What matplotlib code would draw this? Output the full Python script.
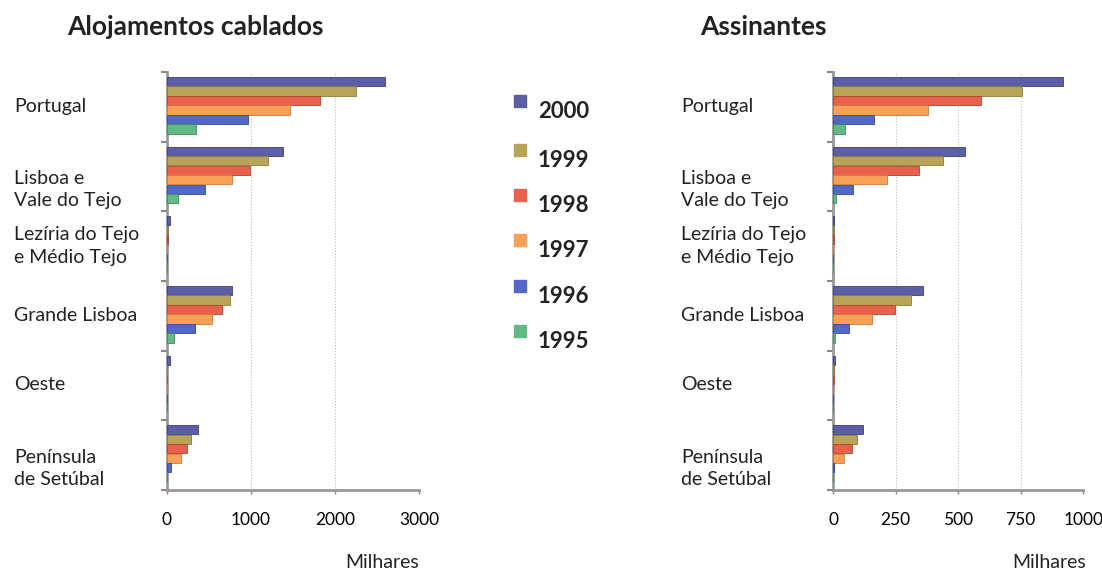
import numpy as np
import matplotlib.pyplot as plt
from matplotlib import transforms

plt.rcParams['font.family'] = ['Lato', 'DejaVu Sans']

regions = ['Portugal', 'Lisboa e\nVale do Tejo', 'Lezíria do Tejo\ne Médio Tejo',
           'Grande Lisboa', 'Oeste', 'Península\nde Setúbal']
years = ['2000', '1999', '1998', '1997', '1996', '1995']
colors = ['#5b5fa6', '#b8a457', '#e9604c', '#f7a057', '#5268c6', '#62b985']
edges = ['#3a3d80', '#8a7a3a', '#b8402e', '#d07a35', '#34489a', '#3f8a5c']

# Alojamentos cablados (milhares), rows = years 2000..1995
aloj_2000 = [2600, 1380, 40, 770, 35, 370]
aloj_1999 = [2250, 1200, 10, 750, 5, 290]
aloj_1998 = [1820, 990, 8, 660, 4, 240]
aloj_1997 = [1460, 780, 6, 540, 3, 170]
aloj_1996 = [960, 455, 4, 335, 2, 50]
aloj_1995 = [350, 130, 2, 85, 1, 5]

# Assinantes (milhares)
assi_2000 = [920, 528, 3, 360, 6, 120]
assi_1999 = [756, 440, 2, 312, 3, 96]
assi_1998 = [592, 344, 2, 248, 2, 76]
assi_1997 = [380, 216, 1, 156, 1, 44]
assi_1996 = [164, 80, 1, 64, 1, 2]
assi_1995 = [48, 10, 0, 8, 0, 0]

aloj = [aloj_2000, aloj_1999, aloj_1998, aloj_1997, aloj_1996, aloj_1995]
assi = [assi_2000, assi_1999, assi_1998, assi_1997, assi_1996, assi_1995]

fig = plt.figure(figsize=(11.02, 5.71), dpi=100)
ax1 = fig.add_axes([0.1515, 0.142, 0.2287, 0.732])
ax2 = fig.add_axes([0.756, 0.142, 0.227, 0.732])

bh = 0.136
pos = np.arange(len(regions))
label_shift = [0, 0.19, 0, 0, -0.02, 0.19]


def draw(ax, data, xmax, xticks, title, title_x, label_x, milhares_x):
    for j, vals in enumerate(data):
        y = pos - 0.5 + 0.07 + bh * j + bh / 2
        ax.barh(y, vals, height=bh * 0.97, color=colors[j], edgecolor=edges[j], linewidth=0.6, zorder=3)
    ax.set_ylim(len(regions) - 0.5, -0.5)
    ax.set_xlim(0, xmax)
    ax.set_xticks(xticks)
    ax.set_xticklabels([str(t) for t in xticks], fontsize=12.5)
    ax.set_yticks(np.arange(len(regions) + 1) - 0.5)
    ax.set_yticklabels([])
    ax.tick_params(axis='y', length=4, color='#888888', width=1.5)
    ax.tick_params(axis='x', length=3, color='#888888', width=1, pad=13)
    for s in ['top', 'right']:
        ax.spines[s].set_visible(False)
    for s in ['left', 'bottom']:
        ax.spines[s].set_color('#999999')
        ax.spines[s].set_linewidth(2)
    for t in xticks[1:]:
        ax.axvline(t, color='#bbbbbb', linestyle=':', linewidth=0.8, zorder=1)
    trans = transforms.blended_transform_factory(fig.transFigure, ax.transData)
    for i, r in enumerate(regions):
        ax.text(label_x, i + label_shift[i], r, transform=trans, ha='left', va='center',
                fontsize=14, linespacing=1.4, color='#222222')
    fig.text(title_x, 0.953, title, fontsize=19, fontweight='bold', ha='left', va='center', color='#222222')
    fig.text(milhares_x, 0.015, 'Milhares', fontsize=14, ha='center', va='center', color='#222222')


draw(ax1, aloj, 3000, [0, 1000, 2000, 3000], 'Alojamentos cablados', 0.061, 0.013, 0.347)
draw(ax2, assi, 1000, [0, 250, 500, 750, 1000], 'Assinantes', 0.635, 0.618, 0.952)

legend_y = [106, 155, 200, 245, 291, 336]
for j, yr in enumerate(years):
    yf = 1 - legend_y[j] / 571
    fig.patches.append(plt.Rectangle((514 / 1102, yf - 0.002), 12 / 1102, 12 / 571,
                                     transform=fig.transFigure, color=colors[j], zorder=5))
    fig.text(538 / 1102, yf - 0.01, yr, fontsize=16, fontweight='bold', ha='left', va='center', color='#222222')

fig.savefig('out.png', dpi=100)
